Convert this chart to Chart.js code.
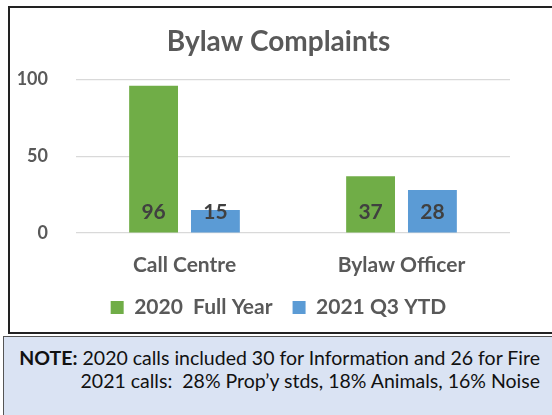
<!DOCTYPE html>
<html>
<head>
<meta charset="utf-8">
<script src="https://cdn.jsdelivr.net/npm/chart.js@4"></script>
<style>
  html, body { margin: 0; padding: 0; background: #fff; width: 552px; height: 415px; overflow: hidden; font-family: Lato, "Liberation Sans", sans-serif; }
  #box { position: absolute; left: 8px; top: 6px; width: 560px; height: 328px; border: 2px solid #222; box-sizing: border-box; background: #fff; }
  #box canvas { position: absolute; left: 0; top: 0; }
  #note { position: absolute; left: 3px; top: 336px; width: 570px; height: 90px; border: 1.5px solid #555; background: #dae3f3; box-sizing: border-box; }
  #note p { position: absolute; margin: 0; right: 32px; font-size: 19.5px; line-height: 24px; color: #111; white-space: nowrap; text-align: right; }
</style>
</head>
<body>
<div id="box"><canvas id="chart" width="556" height="324"></canvas></div>
<div id="note">
  <p style="top:9px"><b>NOTE:</b> 2020 calls included 30 for Information and 26 for Fire</p>
  <p style="top:32px">2021 calls:&nbsp; 28% Prop’y stds, 18% Animals, 16% Noise</p>
</div>
<script>
const categories = ["Call Centre", "Bylaw Officer"];
const fullYear2020 = [96, 37];
const q3Ytd2021 = [15, 28];
const yTicks = [0, 50, 100];

const GREY = "#595959";
const FONT = "Lato, 'Liberation Sans', sans-serif";

const insideLabels = {
  id: "insideLabels",
  afterDatasetsDraw(chart) {
    const ctx = chart.ctx;
    ctx.save();
    ctx.font = "bold 21px " + FONT;
    ctx.fillStyle = "#404040";
    ctx.textAlign = "center";
    ctx.textBaseline = "middle";
    chart.data.datasets.forEach((ds, i) => {
      chart.getDatasetMeta(i).data.forEach((bar, j) => {
        ctx.fillText(String(ds.data[j]), bar.x, bar.base - 20);
      });
    });
    ctx.restore();
  }
};

new Chart(document.getElementById("chart"), {
  type: "bar",
  data: {
    labels: categories,
    datasets: [
      { label: "2020  Full Year", data: fullYear2020, backgroundColor: "#70ad47" },
      { label: "2021 Q3 YTD", data: q3Ytd2021, backgroundColor: "#5b9bd5" },
    ],
  },
  options: {
    responsive: false,
    animation: false,
    layout: { padding: { top: 10, left: 0, right: 19, bottom: 4 } },
    datasets: { bar: { barPercentage: 0.79, categoryPercentage: 0.57 } },
    plugins: {
      title: { display: true, text: "Bylaw Complaints", color: GREY, font: { size: 28, weight: "bold", family: FONT }, padding: { top: 7, bottom: 21 } },
      legend: {
        position: "bottom",
        labels: { color: GREY, boxWidth: 13, boxHeight: 13, padding: 20, font: { size: 21, weight: "bold", family: FONT } },
      },
      tooltip: { enabled: false },
    },
    scales: {
      x: {
        grid: { display: false },
        border: { display: false },
        afterFit: (axis) => { axis.height = 44; },
        ticks: { color: GREY, padding: 12, font: { size: 21, weight: "bold", family: FONT } },
      },
      y: {
        min: 0, max: 100,
        afterBuildTicks: (axis) => { axis.ticks = yTicks.map((v) => ({ value: v })); },
        afterFit: (axis) => { axis.width = 66; },
        grid: { color: "#d9d9d9", lineWidth: 1.2, drawTicks: false },
        border: { display: false },
        ticks: { color: GREY, padding: 28, font: { size: 18, weight: "bold", family: FONT } },
      },
      yRight: {
        position: "right",
        grid: { display: false },
        border: { display: false },
        ticks: { display: false },
        afterFit: (axis) => { axis.width = 37; },
      },
    },
  },
  plugins: [insideLabels],
});
</script>
</body>
</html>
